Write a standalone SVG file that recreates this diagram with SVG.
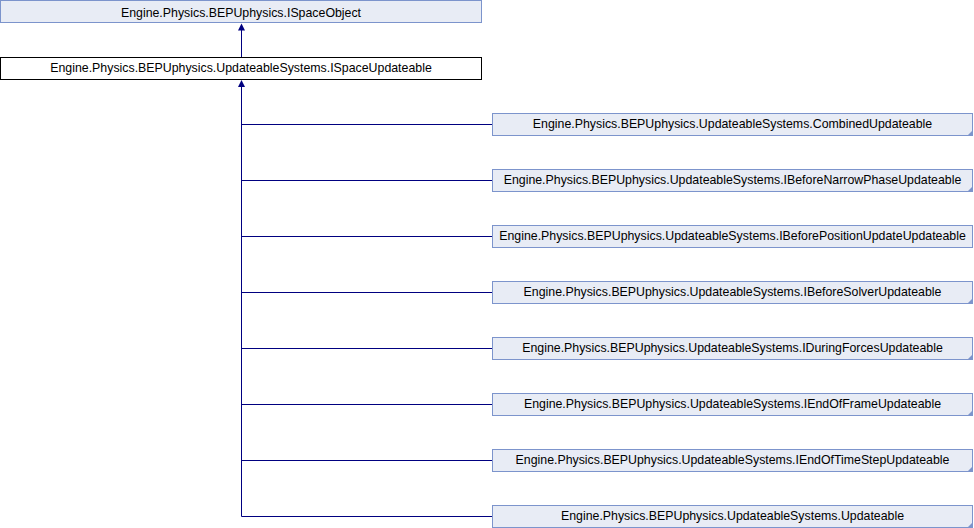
<svg xmlns="http://www.w3.org/2000/svg" width="974" height="528" viewBox="0 0 974 528">
<style>
.box{fill:#e8ecf5;stroke:#7c94cc;stroke-width:1}
.cur{fill:#ffffff;stroke:#000000;stroke-width:1}
.corner{fill:#7c94cc}
.lbl{font-family:"Liberation Sans",Arial,sans-serif;font-size:12.35px;fill:#000000;text-anchor:middle}
.edge{fill:none;stroke:#000080;stroke-width:1}
.head{fill:#000080}
</style>
<rect width="974" height="528" fill="#ffffff"/>
<g id="connectors">
<line class="edge" x1="241.5" y1="57" x2="241.5" y2="28"/>
<polygon class="head" points="241.5,23.5 238,30.5 245,30.5"/>
<line class="edge" x1="241.5" y1="516.5" x2="241.5" y2="85"/>
<polygon class="head" points="241.5,80 238,87 245,87"/>
<line class="edge" x1="241.5" y1="124.5" x2="492" y2="124.5"/>
<line class="edge" x1="241.5" y1="180.5" x2="492" y2="180.5"/>
<line class="edge" x1="241.5" y1="236.5" x2="492" y2="236.5"/>
<line class="edge" x1="241.5" y1="292.5" x2="492" y2="292.5"/>
<line class="edge" x1="241.5" y1="348.5" x2="492" y2="348.5"/>
<line class="edge" x1="241.5" y1="404.5" x2="492" y2="404.5"/>
<line class="edge" x1="241.5" y1="460.5" x2="492" y2="460.5"/>
<line class="edge" x1="241.5" y1="516.5" x2="492" y2="516.5"/>
</g>
<g id="ISpaceObject">
<rect class="box" x="0.5" y="0.5" width="481" height="22"/>
<text class="lbl" x="241" y="17">Engine.Physics.BEPUphysics.ISpaceObject</text>
</g>
<g id="ISpaceUpdateable">
<rect class="cur" x="0.5" y="57.5" width="481" height="22"/>
<text class="lbl" x="241" y="72">Engine.Physics.BEPUphysics.UpdateableSystems.ISpaceUpdateable</text>
</g>
<g id="CombinedUpdateable">
<rect class="box" x="492.5" y="113.5" width="480" height="22"/>
<polygon class="corner" points="967,136 973,136 973,130"/>
<text class="lbl" x="732.5" y="128">Engine.Physics.BEPUphysics.UpdateableSystems.CombinedUpdateable</text>
</g>
<g id="IBeforeNarrowPhaseUpdateable">
<rect class="box" x="492.5" y="169.5" width="480" height="22"/>
<polygon class="corner" points="967,192 973,192 973,186"/>
<text class="lbl" x="732.5" y="184">Engine.Physics.BEPUphysics.UpdateableSystems.IBeforeNarrowPhaseUpdateable</text>
</g>
<g id="IBeforePositionUpdateUpdateable">
<rect class="box" x="492.5" y="225.5" width="480" height="22"/>
<text class="lbl" x="732.5" y="240">Engine.Physics.BEPUphysics.UpdateableSystems.IBeforePositionUpdateUpdateable</text>
</g>
<g id="IBeforeSolverUpdateable">
<rect class="box" x="492.5" y="281.5" width="480" height="22"/>
<polygon class="corner" points="967,304 973,304 973,298"/>
<text class="lbl" x="732.5" y="296">Engine.Physics.BEPUphysics.UpdateableSystems.IBeforeSolverUpdateable</text>
</g>
<g id="IDuringForcesUpdateable">
<rect class="box" x="492.5" y="337.5" width="480" height="22"/>
<polygon class="corner" points="967,360 973,360 973,354"/>
<text class="lbl" x="732.5" y="352">Engine.Physics.BEPUphysics.UpdateableSystems.IDuringForcesUpdateable</text>
</g>
<g id="IEndOfFrameUpdateable">
<rect class="box" x="492.5" y="393.5" width="480" height="22"/>
<polygon class="corner" points="967,416 973,416 973,410"/>
<text class="lbl" x="732.5" y="408">Engine.Physics.BEPUphysics.UpdateableSystems.IEndOfFrameUpdateable</text>
</g>
<g id="IEndOfTimeStepUpdateable">
<rect class="box" x="492.5" y="449.5" width="480" height="22"/>
<polygon class="corner" points="967,472 973,472 973,466"/>
<text class="lbl" x="732.5" y="464">Engine.Physics.BEPUphysics.UpdateableSystems.IEndOfTimeStepUpdateable</text>
</g>
<g id="Updateable">
<rect class="box" x="492.5" y="505.5" width="480" height="22"/>
<polygon class="corner" points="967,528 973,528 973,522"/>
<text class="lbl" x="732.5" y="520">Engine.Physics.BEPUphysics.UpdateableSystems.Updateable</text>
</g>
</svg>
